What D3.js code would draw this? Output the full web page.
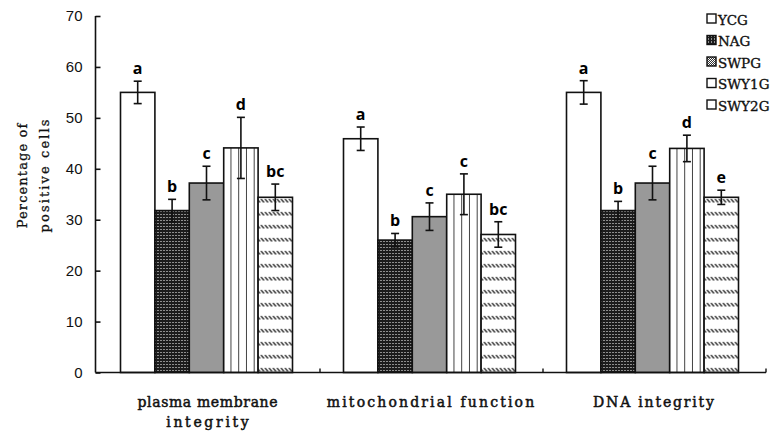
<!DOCTYPE html>
<html>
<head>
<meta charset="utf-8">
<script src="https://cdn.jsdelivr.net/npm/d3@7/dist/d3.min.js"></script>
<style>
body{margin:0;background:#fff;}
svg{display:block;}
.mono{font-family:"DejaVu Serif","Liberation Serif",serif;}
</style>
</head>
<body>
<div id="chart"></div>
<script>
// data
var categories=["plasma membrane integrity","mitochondrial function","DNA integrity"];
var categoryLabels=[["plasma membrane","integrity"],["mitochondrial function"],["DNA integrity"]];
var series=["YCG","NAG","SWPG","SWY1G","SWY2G"];

var YCG=[55.0,45.9,55.0];
var NAG=[31.8,26.0,31.8];
var SWPG=[37.2,30.6,37.2];
var SWY1G=[44.1,35.0,44.0];
var SWY2G=[34.4,27.1,34.4];

var YCG_err=[2.2,2.3,2.3];
var NAG_err=[2.2,1.3,1.8];
var SWPG_err=[3.3,2.7,3.3];
var SWY1G_err=[6.0,4.0,2.6];
var SWY2G_err=[2.6,2.5,1.4];

var sigLetters=[["a","b","c","d","bc"],["a","b","c","c","bc"],["a","b","c","d","e"]];

var yTicks=[0,10,20,30,40,50,60,70];
var yTitle=["Percentage of","positive cells"];

var means={YCG:YCG,NAG:NAG,SWPG:SWPG,SWY1G:SWY1G,SWY2G:SWY2G};
var errs={YCG:YCG_err,NAG:NAG_err,SWPG:SWPG_err,SWY1G:SWY1G_err,SWY2G:SWY2G_err};

var W=772,H=434;
var svg=d3.select("#chart").append("svg").attr("width",W).attr("height",H);
var defs=svg.append("defs");

// the original text is a fixed-pitch serif, so stretch each string to a fixed advance per char
function pitch(sel,adv){
	sel.attr("textLength",function(){return (this.textContent.length-0.4)*adv;})
		.attr("lengthAdjust","spacing");
}

// fill patterns
var p=defs.append("pattern").attr("id","pNAG").attr("patternUnits","userSpaceOnUse").attr("width",3).attr("height",3);
p.append("rect").attr("width",3).attr("height",3).attr("fill","#1c1c1c");
p.append("rect").attr("x",1).attr("y",1).attr("width",1).attr("height",1).attr("fill","#fff");

p=defs.append("pattern").attr("id","pSWPG").attr("patternUnits","userSpaceOnUse").attr("width",2).attr("height",2);
p.append("rect").attr("width",2).attr("height",2).attr("fill","#fff");
p.append("rect").attr("width",1).attr("height",1).attr("fill","#333");
p.append("rect").attr("x",1).attr("y",1).attr("width",1).attr("height",1).attr("fill","#333");

p=defs.append("pattern").attr("id","pSWY1G").attr("patternUnits","objectBoundingBox")
	.attr("width",0.225).attr("height",1);
p.append("rect").attr("width",40).attr("height",400).attr("fill","#fff");
p.append("line").attr("x1",7.7).attr("x2",7.7).attr("y1",0).attr("y2",400).attr("stroke","#111").attr("stroke-width",1.5);

p=defs.append("pattern").attr("id","pSWY2G").attr("patternUnits","userSpaceOnUse").attr("width",4).attr("height",13);
p.append("rect").attr("width",4).attr("height",13).attr("fill","#fff");
p.append("line").attr("x1",0.5).attr("y1",4).attr("x2",3.5).attr("y2",7.5).attr("stroke","#222").attr("stroke-width",1.2);

var fills={YCG:"#fff",NAG:"url(#pNAG)",SWPG:"url(#pSWPG)",SWY1G:"url(#pSWY1G)",SWY2G:"url(#pSWY2G)"};

var y=d3.scaleLinear().domain([0,70]).range([372.5,16]);
var x0=d3.scaleBand().domain(categories).range([97,766]);
var x1=d3.scaleBand().domain(series).range([0,172]);
var groupPad=23.5;

// bars
var groups=svg.selectAll("g.grp").data(categories).enter().append("g")
	.attr("class","grp")
	.attr("transform",function(d){return "translate("+(x0(d)+groupPad)+",0)";});

groups.each(function(cat,ci){
	var g=d3.select(this);
	var rows=series.map(function(s,si){
		return {s:s,v:means[s][ci],e:errs[s][ci],l:sigLetters[ci][si]};
	});
	g.selectAll("rect").data(rows).enter().append("rect")
		.attr("x",function(d){return x1(d.s);})
		.attr("y",function(d){return y(d.v);})
		.attr("width",x1.bandwidth())
		.attr("height",function(d){return y(0)-y(d.v);})
		.attr("fill",function(d){return fills[d.s];})
		.attr("stroke","#111").attr("stroke-width",1.6);

	var eb=g.selectAll("g.err").data(rows).enter().append("g").attr("class","err")
		.attr("stroke","#111").attr("stroke-width",1.6);
	var cx=function(d){return x1(d.s)+x1.bandwidth()/2;};
	eb.append("line").attr("x1",cx).attr("x2",cx)
		.attr("y1",function(d){return y(d.v+d.e);})
		.attr("y2",function(d){return y(d.v-d.e);});
	eb.append("line").attr("x1",function(d){return cx(d)-4;}).attr("x2",function(d){return cx(d)+4;})
		.attr("y1",function(d){return y(d.v+d.e);}).attr("y2",function(d){return y(d.v+d.e);});
	eb.append("line").attr("x1",function(d){return cx(d)-4;}).attr("x2",function(d){return cx(d)+4;})
		.attr("y1",function(d){return y(d.v-d.e);}).attr("y2",function(d){return y(d.v-d.e);});

	g.selectAll("text.sig").data(rows).enter().append("text").attr("class","sig")
		.attr("x",cx)
		.attr("y",function(d){return y(d.v+d.e)-7;})
		.attr("text-anchor","middle")
		.style("font-family","'Open Sans','Liberation Sans',sans-serif")
		.style("font-weight","bold").style("font-size","16px")
		.text(function(d){return d.l;});
});

// y axis
var yAxis=d3.axisLeft(y).tickValues(yTicks).tickSize(-5).tickPadding(13);
var ya=svg.append("g").attr("transform","translate(95.5,0)").call(yAxis);
ya.select(".domain").attr("stroke","#111").attr("stroke-width",1.6).attr("d","M0,16V372.5");
ya.selectAll(".tick line").attr("stroke","#111").attr("stroke-width",1.6);
ya.selectAll(".tick text").style("font-family","'Liberation Sans',Arial,sans-serif").style("font-size","15px").attr("fill","#111");

// x axis
var xAxis=d3.axisBottom(x0).tickSize(0).tickFormat("");
var xa=svg.append("g").attr("transform","translate(0,372.5)").call(xAxis);
xa.select(".domain").attr("stroke","#111").attr("stroke-width",1.6).attr("d","M95.5,0H766");
xa.selectAll(".bound").data(categories).enter().append("line").attr("class","bound")
	.attr("x1",function(d){return x0(d)+x0.bandwidth();}).attr("x2",function(d){return x0(d)+x0.bandwidth();})
	.attr("y1",0).attr("y2",-4).attr("stroke","#111").attr("stroke-width",1.4);

categories.forEach(function(d,i){
	categoryLabels[i].forEach(function(line,k){
		svg.append("text").attr("class","mono")
			.attr("x",x0(d)+x0.bandwidth()/2-1).attr("y",407+k*20)
			.attr("text-anchor","middle").style("font-size","14px")
			.attr("fill","#111").attr("stroke","#111").attr("stroke-width",0.5)
			.text(line).call(pitch,9.6);
	});
});

// y title
yTitle.forEach(function(line,k){
	svg.append("text").attr("class","mono")
		.attr("transform","translate("+(27+k*22)+",176) rotate(-90)")
		.attr("text-anchor","middle").style("font-size","13px").attr("fill","#111")
		.attr("stroke","#111").attr("stroke-width",0.3)
		.text(line).call(pitch,8.3);
});

// legend
var leg=svg.selectAll("g.leg").data(series).enter().append("g").attr("class","leg")
	.attr("transform",function(d,i){return "translate(707,"+(19+i*21.5)+")";});
leg.append("rect").attr("x",0).attr("y",-5).attr("width",9).attr("height",9)
	.attr("fill",function(d){return fills[d];}).attr("stroke","#111").attr("stroke-width",1.4);
leg.append("text").attr("class","mono").attr("x",11).attr("y",5.5)
	.style("font-size","13.5px").attr("fill","#111")
	.attr("stroke","#111").attr("stroke-width",0.35)
	.text(function(d){return d;});
</script>
</body>
</html>
